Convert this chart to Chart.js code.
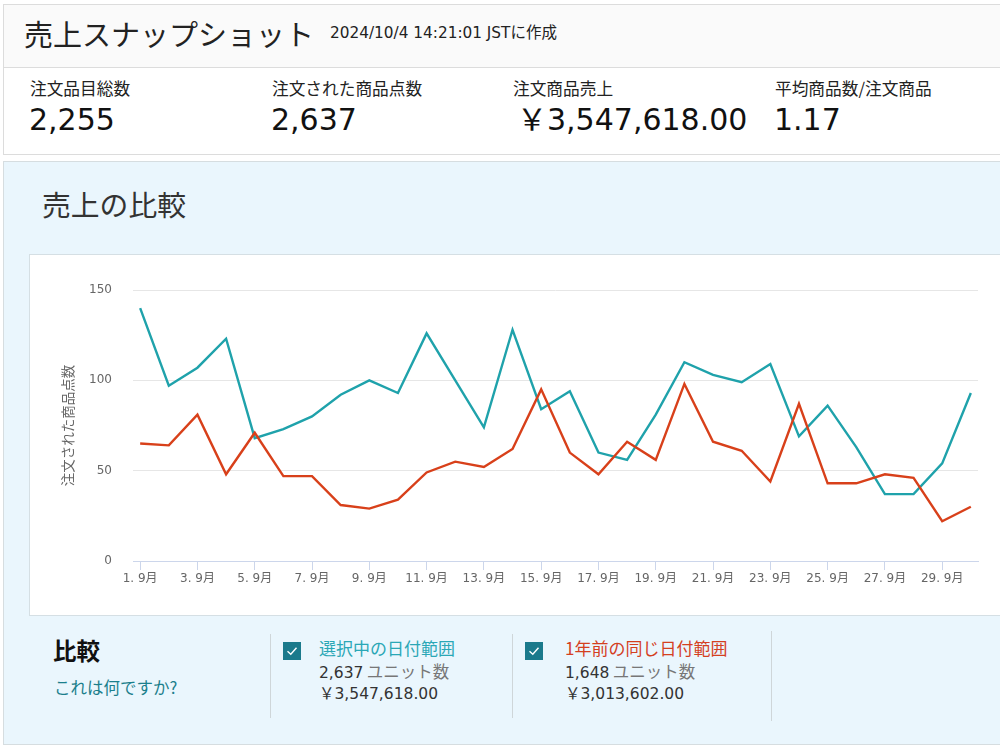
<!DOCTYPE html>
<html lang="ja">
<head>
<meta charset="utf-8">
<script src="https://cdn.jsdelivr.net/npm/chart.js@4.4.1/dist/chart.umd.min.js"></script>
<style>
  html, body { margin: 0; padding: 0; background: #fff; }
  body { width: 1000px; height: 748px; position: relative; overflow: hidden;
         font-family: "Noto Sans CJK JP", "Noto Sans", sans-serif; color: #111; }
  .abs { position: absolute; white-space: nowrap; }
  .num { font-family: "DejaVu Sans", "Noto Sans CJK JP", sans-serif; }
  #hdr { left: 3px; top: 4px; width: 1010px; height: 149px; border: 1px solid #dcdcdc; background: #fff; }
  #hdrTop { left: 0; top: 0; width: 100%; height: 62px; background: #fafafa; border-bottom: 1px solid #dcdcdc; }
  #panel { left: 3px; top: 161px; width: 1010px; height: 582px; border: 1px solid #d6dde0; background: #eaf6fd; }
  #chartBox { left: 29px; top: 254px; width: 990px; height: 360px; background: #fff; border: 1px solid #d5dfe4; }
  #cv { position: absolute; left: 30px; top: 255px; }
  .lbl { font-size: 16.7px; color: #222; }
  .val { font-size: 30px; line-height: 30px; color: #111; }
  .div { position: absolute; width: 1px; background: #cfd6d9; }
  .cb { position: absolute; width: 18px; height: 18px; background: #1b7a8c; }
  .cb svg { position: absolute; left: 0; top: 0; }
  .lg { font-size: 15.5px; line-height: 20px; }
  .lgt { font-size: 17px; }
</style>
</head>
<body>
<div id="hdr" class="abs"><div id="hdrTop" class="abs"></div></div>
<div class="abs" style="left:24px;top:12px;font-size:29px;color:#222;">売上スナップショット</div>
<div class="abs num" style="left:330px;top:22px;font-size:15.3px;line-height:18px;color:#222;">2024/10/4 14:21:01 JST<span style="font-family:'Noto Sans CJK JP';font-size:15.5px;">に作成</span></div>

<div class="abs lbl" style="left:30px;top:76px;">注文品目総数</div>
<div class="abs lbl" style="left:272px;top:76px;">注文された商品点数</div>
<div class="abs lbl" style="left:513px;top:76px;">注文商品売上</div>
<div class="abs lbl" style="left:775px;top:76px;">平均商品数/注文商品</div>
<div class="abs val num" style="left:29px;top:105px;">2,255</div>
<div class="abs val num" style="left:271px;top:105px;">2,637</div>
<div class="abs val num" style="left:517px;top:105px;">￥3,547,618.00</div>
<div class="abs val num" style="left:774px;top:105px;">1.17</div>

<div id="panel" class="abs"></div>
<div class="abs" style="left:42px;top:183px;font-size:28.8px;color:#333;">売上の比較</div>
<div id="chartBox" class="abs"></div>
<canvas id="cv" width="970" height="360" style="width:970px;height:360px;"></canvas>

<div class="abs" style="left:53px;top:633px;font-size:23.5px;font-weight:bold;color:#111;">比較</div>
<div class="abs" style="left:54px;top:675px;font-size:16.5px;color:#1b7f8c;">これは何ですか?</div>
<div class="div" style="left:270px;top:634px;height:84px;"></div>
<div class="div" style="left:512px;top:634px;height:84px;"></div>
<div class="div" style="left:771px;top:631px;height:90px;"></div>

<div class="cb" style="left:283px;top:642px;"><svg width="18" height="18"><path d="M4.5 9.2 L7.8 12.3 L13.5 5.8" stroke="#fff" stroke-width="1.4" fill="none"/></svg></div>
<div class="abs lgt" style="left:319px;top:635px;color:#2aa7b6;">選択中の日付範囲</div>
<div class="abs lg" style="left:319px;top:661px;color:#333;"><span class="num">2,637</span> <span style="color:#777;font-size:16.5px;">ユニット数</span></div>
<div class="abs lg num" style="left:319px;top:684px;color:#333;">￥3,547,618.00</div>

<div class="cb" style="left:525px;top:642px;"><svg width="18" height="18"><path d="M4.5 9.2 L7.8 12.3 L13.5 5.8" stroke="#fff" stroke-width="1.4" fill="none"/></svg></div>
<div class="abs lgt" style="left:565px;top:635px;color:#d4401f;">1年前の同じ日付範囲</div>
<div class="abs lg" style="left:565px;top:661px;color:#333;"><span class="num">1,648</span> <span style="color:#777;font-size:16.5px;">ユニット数</span></div>
<div class="abs lg num" style="left:565px;top:684px;color:#333;">￥3,013,602.00</div>

<script>
// Categories: days of September
const dayLabels = ["1. 9月","2. 9月","3. 9月","4. 9月","5. 9月","6. 9月","7. 9月","8. 9月","9. 9月","10. 9月",
  "11. 9月","12. 9月","13. 9月","14. 9月","15. 9月","16. 9月","17. 9月","18. 9月","19. 9月","20. 9月",
  "21. 9月","22. 9月","23. 9月","24. 9月","25. 9月","26. 9月","27. 9月","28. 9月","29. 9月","30. 9月"];
const dayNumbers = [1,2,3,4,5,6,7,8,9,10,11,12,13,14,15,16,17,18,19,20,21,22,23,24,25,26,27,28,29,30];
// Series: selected date range (units)
const currentUnits = [140,97,107,123,68,73,80,92,100,93,126,100,74,128,84,94,60,56,81,110,103,99,109,69,86,63,37,37,54,93];
// Series: same date range one year earlier (units)
const lastYearUnits = [65,64,81,48,71,47,47,31,29,34,49,55,52,62,95,60,48,66,56,98,66,61,44,87,43,43,48,46,22,30];
// Tick labels
const xTickDays = [1,3,5,7,9,11,13,15,17,19,21,23,25,27,29];
const yTickValues = [0,50,100,150];

const toPts = arr => arr.map((v, i) => ({ x: dayNumbers[i], y: v }));
const tickFont = { family: '"DejaVu Sans", "Noto Sans CJK JP", sans-serif', size: 12 };

new Chart(document.getElementById('cv'), {
  type: 'line',
  data: {
    datasets: [
      { label: '1年前の同じ日付範囲', data: toPts(lastYearUnits), borderColor: '#d8401a', borderWidth: 2.4,
        pointRadius: 0, tension: 0, fill: false },
      { label: '選択中の日付範囲', data: toPts(currentUnits), borderColor: '#1fa2ab', borderWidth: 2.4,
        pointRadius: 0, tension: 0, fill: false }
    ]
  },
  options: {
    responsive: false,
    animation: false,
    layout: { padding: { top: 35, left: 0, right: 22, bottom: 0 } },
    plugins: { legend: { display: false }, tooltip: { enabled: false } },
    scales: {
      x: {
        type: 'linear', min: 0.75, max: 30.25,
        afterBuildTicks: s => { s.ticks = xTickDays.map(v => ({ value: v })); },
        afterFit: s => { s.height = 54; },
        grid: { drawOnChartArea: false, drawTicks: true, tickLength: 9, color: '#ccd6eb', lineWidth: 1 },
        border: { display: true, color: '#ccd6eb', width: 1 },
        ticks: { font: tickFont, color: '#666', padding: 2, maxRotation: 0, autoSkip: false,
                 callback: v => dayLabels[v - 1] }
      },
      y: {
        min: 0, max: 150,
        afterBuildTicks: s => { s.ticks = yTickValues.map(v => ({ value: v })); },
        afterFit: s => { s.width = 103; },
        grid: { color: '#e6e6e6', drawTicks: false, lineWidth: 1 },
        border: { display: false },
        ticks: { font: tickFont, color: '#666', padding: 21 },
        title: { display: true, text: '注文された商品点数', color: '#666',
                 font: { family: '"Noto Sans CJK JP", sans-serif', size: 13.5 }, padding: { top: 30, bottom: 0 } }
      }
    }
  }
});
</script>
</body>
</html>
